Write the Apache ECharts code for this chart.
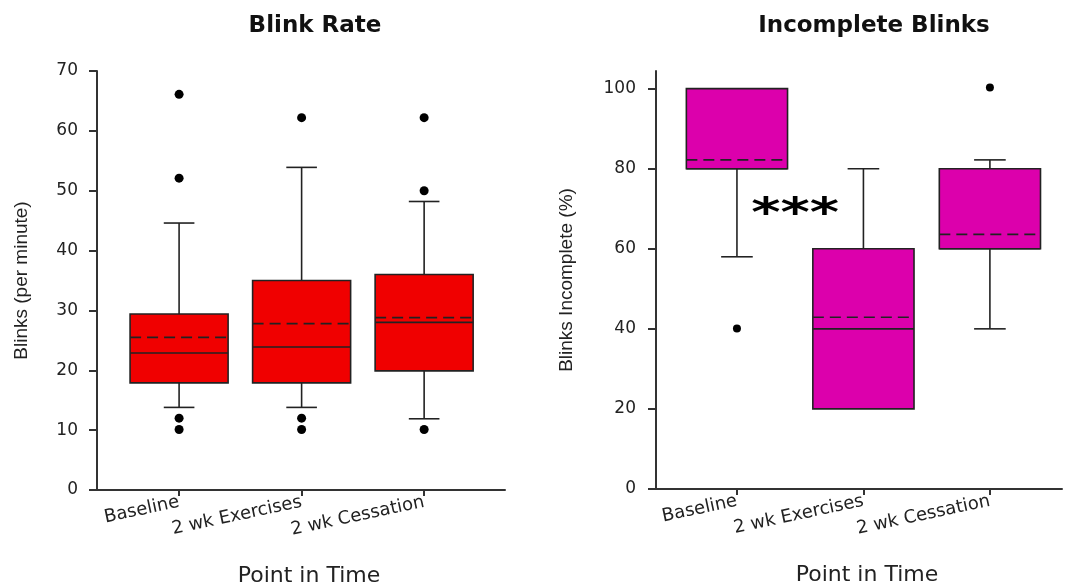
<!DOCTYPE html>
<html>
<head>
<meta charset="utf-8">
<script src="https://cdn.jsdelivr.net/npm/echarts@6/dist/echarts.min.js"></script>
<style>
html,body{margin:0;padding:0;background:#fff;}
#chart{width:1066px;height:586px;}
</style>
</head>
<body>
<div id="chart"></div>
<script>
// ---- data ----
const categories = ['Baseline', '2 wk Exercises', '2 wk Cessation'];

// Blink Rate (blinks per minute)
const rateWhiskerLow  = [13.8, 13.8, 11.9];
const rateQ1          = [17.9, 17.9, 19.9];
const rateMedian      = [22.9, 23.9, 28.0];
const rateQ3          = [29.4, 35.0, 36.0];
const rateWhiskerHigh = [44.6, 53.9, 48.2];
const rateMean        = [25.5, 27.8, 28.8];
const rateOutliers    = [[0, 66.1], [0, 52.1], [0, 12.0], [0, 10.1],
                         [1, 62.2], [1, 12.0], [1, 10.1],
                         [2, 62.2], [2, 50.0], [2, 10.1]];
const rateTicks = [0, 10, 20, 30, 40, 50, 60, 70];

// Incomplete Blinks (%)
const incWhiskerLow  = [58.0, 20.0, 40.0];
const incQ1          = [80.0, 20.0, 60.0];
const incMedian      = [80.0, 40.0, 60.0];
const incQ3          = [100.0, 60.0, 80.0];
const incWhiskerHigh = [100.0, 80.0, 82.2];
const incMean        = [82.2, 42.9, 63.6];
const incOutliers    = [[0, 40.1], [2, 100.3]];
const incTicks = [0, 20, 40, 60, 80, 100];

const significance = [[0.46, 68.3, '***']];

// ---- build ----
function boxRows(lo, q1, med, q3, hi, mean) {
  return categories.map((c, i) => [i, lo[i], q1[i], med[i], q3[i], hi[i], mean[i]]);
}
const FONT = 'DejaVu Sans';
const TXT = '#222';
const LINE = '#222';

function makeRender(fill, boxW, capW) {
  return function (params, api) {
    const x = api.value(0);
    const lo = api.value(1), q1 = api.value(2), med = api.value(3),
          q3 = api.value(4), hi = api.value(5), mean = api.value(6);
    const c = (v) => api.coord([x, v]);
    const half = api.size([boxW, 0])[0] / 2;
    const capHalf = api.size([capW, 0])[0] / 2;
    const pQ1 = c(q1), pQ3 = c(q3), pMed = c(med), pMean = c(mean), pLo = c(lo), pHi = c(hi);
    const cx = pQ1[0];
    const st = { stroke: LINE, lineWidth: 1.6 };
    const ch = [];
    if (hi > q3) {
      ch.push({ type: 'line', shape: { x1: cx, y1: pQ3[1], x2: cx, y2: pHi[1] }, style: st });
      ch.push({ type: 'line', shape: { x1: cx - capHalf, y1: pHi[1], x2: cx + capHalf, y2: pHi[1] }, style: st });
    }
    if (lo < q1) {
      ch.push({ type: 'line', shape: { x1: cx, y1: pQ1[1], x2: cx, y2: pLo[1] }, style: st });
      ch.push({ type: 'line', shape: { x1: cx - capHalf, y1: pLo[1], x2: cx + capHalf, y2: pLo[1] }, style: st });
    }
    ch.push({ type: 'rect', shape: { x: cx - half, y: pQ3[1], width: half * 2, height: pQ1[1] - pQ3[1] },
              style: { fill: fill, stroke: LINE, lineWidth: 1.6 } });
    ch.push({ type: 'line', shape: { x1: cx - half, y1: pMed[1], x2: cx + half, y2: pMed[1] }, style: st });
    ch.push({ type: 'line', shape: { x1: cx - half, y1: pMean[1], x2: cx + half, y2: pMean[1] },
              style: { stroke: LINE, lineWidth: 1.6, lineDash: [11, 6] } });
    return { type: 'group', children: ch };
  };
}

function xAxisDef(gridIndex, min, max) {
  return {
    type: 'value', gridIndex, min, max,
    axisLine: { show: true, onZero: false, lineStyle: { color: '#333', width: 2 } },
    axisTick: { show: true, customValues: [0, 1, 2], length: 6, lineStyle: { color: '#333', width: 2 } },
    axisLabel: { show: true, customValues: [0, 1, 2], formatter: (v) => categories[Math.round(v)],
                 rotate: 12, margin: 12, fontFamily: FONT, fontSize: 18, color: TXT },
    splitLine: { show: false },
    name: 'Point in Time', nameLocation: 'middle', nameGap: 75,
    nameTextStyle: { fontFamily: FONT, fontSize: 22, color: TXT, padding: [0, 0, 0, 16] }
  };
}
function yAxisDef(gridIndex, min, max, interval, ticks, name, gap, margin) {
  return {
    type: 'value', gridIndex, min, max, interval,
    axisLine: { show: true, onZero: false, lineStyle: { color: '#333', width: 2 } },
    axisTick: { show: true, customValues: ticks, length: 8, lineStyle: { color: '#333', width: 2 } },
    axisLabel: { show: true, customValues: ticks, margin: margin, fontFamily: FONT, fontSize: 17, color: TXT },
    splitLine: { show: false },
    name: name, nameLocation: 'middle', nameGap: gap, nameRotate: 90,
    nameTextStyle: { fontFamily: 'Liberation Sans', fontSize: 19, color: TXT }
  };
}

const option = {
  backgroundColor: '#fff',
  animation: false,
  title: [
    { text: 'Blink Rate', left: 310, top: 10, textAlign: 'center',
      textStyle: { fontFamily: FONT, fontWeight: 'bold', fontSize: 23, color: '#111' } },
    { text: 'Incomplete Blinks', left: 869, top: 10, textAlign: 'center',
      textStyle: { fontFamily: FONT, fontWeight: 'bold', fontSize: 23, color: '#111' } }
  ],
  grid: [
    { left: 97, width: 408, top: 71, height: 419, containLabel: false, outerBoundsMode: 'none' },
    { left: 656, width: 406, top: 71, height: 418, containLabel: false, outerBoundsMode: 'none' }
  ],
  xAxis: [xAxisDef(0, -0.67, 2.66), xAxisDef(1, -0.64, 2.57)],
  yAxis: [
    yAxisDef(0, 0, 70, 10, rateTicks, 'Blinks (per minute)', 66, 19),
    yAxisDef(1, 0, 104.4, 20, incTicks, 'Blinks Incomplete (%)', 80, 20)
  ],
  series: [
    { type: 'custom', xAxisIndex: 0, yAxisIndex: 0,
      renderItem: makeRender('#f00000', 0.8, 0.25),
      encode: { x: 0, y: [1, 2, 3, 4, 5, 6] },
      data: boxRows(rateWhiskerLow, rateQ1, rateMedian, rateQ3, rateWhiskerHigh, rateMean) },
    { type: 'scatter', xAxisIndex: 0, yAxisIndex: 0, symbolSize: 9,
      itemStyle: { color: '#000', opacity: 1 }, data: rateOutliers },
    { type: 'custom', xAxisIndex: 1, yAxisIndex: 1,
      renderItem: makeRender('#dc00ac', 0.8, 0.25),
      encode: { x: 0, y: [1, 2, 3, 4, 5, 6] },
      data: boxRows(incWhiskerLow, incQ1, incMedian, incQ3, incWhiskerHigh, incMean) },
    { type: 'scatter', xAxisIndex: 1, yAxisIndex: 1, symbolSize: 8,
      itemStyle: { color: '#000', opacity: 1 }, data: incOutliers },
    { type: 'custom', xAxisIndex: 1, yAxisIndex: 1,
      encode: { x: 0, y: 1 },
      data: significance.map(d => [d[0], d[1]]),
      renderItem: function (params, api) {
        const p = api.coord([api.value(0), api.value(1)]);
        return { type: 'text', x: p[0], y: p[1], scaleX: 1.4,
                 style: { text: significance[params.dataIndex][2], fill: '#000',
                          font: 'bold 40px "DejaVu Sans"', align: 'center', verticalAlign: 'middle' } };
      } }
  ]
};
const chart = echarts.init(document.getElementById('chart'), null, { renderer: 'canvas' });
chart.setOption(option);
</script>
</body>
</html>
